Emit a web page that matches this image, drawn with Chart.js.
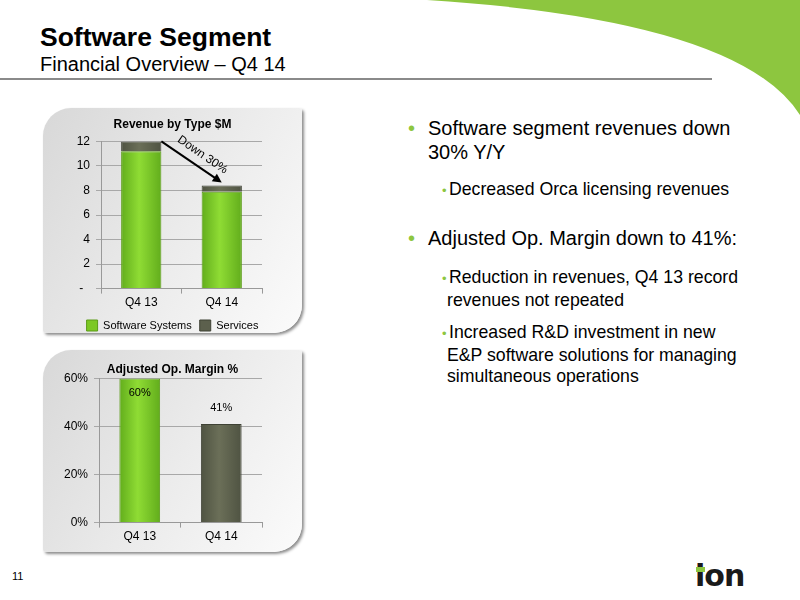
<!DOCTYPE html>
<html>
<head>
<meta charset="utf-8">
<title>Software Segment</title>
<script src="https://cdn.jsdelivr.net/npm/chart.js@4.4.0/dist/chart.umd.min.js"></script>
<style>
  body { margin: 0; width: 800px; height: 600px; position: relative; overflow: hidden; background: #fff; font-family: "Liberation Sans", Arial, sans-serif; color: #000; }
  .swoosh { position: absolute; left: 0; top: 0; }
  .titulo { position: absolute; left: 40px; top: 22px; font-size: 26.5px; font-weight: bold; }
  .subtitulo { position: absolute; left: 40px; top: 53px; font-size: 20px; }
  .linea { position: absolute; left: 0; top: 78px; width: 712px; height: 2px; background: #8a8a8a; }
  .panel { position: absolute; border-radius: 28px 3px 28px 3px; background: linear-gradient(120deg, #d8d8d8 0%, #ececec 55%, #fbfbfb 100%); box-shadow: 2px 2px 3px rgba(0,0,0,0.45); }
  .panel canvas { position: absolute; left: 0; top: 0; }
  .punto { color: #8dc63f; }
  .b1 { position: absolute; left: 408px; font-size: 20px; line-height: 24px; padding-left: 20px; text-indent: -20px; width: 330px; }
  .b1 .punto { display: inline-block; width: 20px; text-indent: 0; }
  .b2 { position: absolute; left: 442px; font-size: 17.7px; line-height: 21.7px; padding-left: 5px; text-indent: -5px; width: 300px; }
  .b2 .punto { display: inline-block; width: 7px; text-indent: 0; font-size: 13px; }
  .pagina { position: absolute; left: 12px; top: 570px; font-size: 11px; }
  .logo { position: absolute; left: 695px; top: 558px; font-size: 30px; font-weight: bold; letter-spacing: -1px; color: #1a1a1a; font-family: "DejaVu Sans", sans-serif; }
  .logo span { position: absolute; left: 1px; top: 9px; width: 9px; height: 5px; background: #8dc63f; }
</style>
</head>
<body>
<svg class="swoosh" width="800" height="600">
  <path d="M427,0 Q740,20 800,115 L800,0 Z" fill="#8dc63f"/>
</svg>
<div class="titulo">Software Segment</div>
<div class="subtitulo">Financial Overview – Q4 14</div>
<div class="linea"></div>

<div class="panel" style="left:43px;top:108px;width:259px;height:225px;">
  <canvas id="graficaIngresos" width="259" height="235"></canvas>
</div>
<div class="panel" style="left:43px;top:350px;width:259px;height:202px;">
  <canvas id="graficaMargen" width="259" height="202"></canvas>
</div>

<div class="b1" style="top:116px;"><span class="punto">•</span>Software segment revenues down 30% Y/Y</div>
<div class="b2" style="top:179px;"><span class="punto">•</span>Decreased Orca licensing revenues</div>
<div class="b1" style="top:226px;"><span class="punto">•</span>Adjusted Op. Margin down to 41%:</div>
<div class="b2" style="top:267px;"><span class="punto">•</span>Reduction in revenues, Q4 13 record revenues not repeated</div>
<div class="b2" style="top:322px;"><span class="punto">•</span>Increased R&amp;D investment in new E&amp;P software solutions for managing simultaneous operations</div>

<div class="pagina">11</div>
<div class="logo">ion<span></span></div>

<script>
const trimestres = ["Q4 13", "Q4 14"];
const softwareSystems = [11.2, 7.9];
const servicios = [0.8, 0.5];
const ticksIngresos = [0, 2, 4, 6, 8, 10, 12];
const margen = [60, 41];
const ticksMargen = [0, 20, 40, 60];

const fuente = "'Liberation Sans', Arial, sans-serif";
Chart.defaults.font.family = fuente;
Chart.defaults.color = "#000";

// degradado horizontal tipo cilindro para cada barra
function degradado(ctx, borde, centro) {
  const chart = ctx.chart;
  const x = chart.scales.x;
  if (!x || !chart.chartArea) return centro;
  const cx = x.getPixelForValue(ctx.dataIndex);
  const w = (x.width / trimestres.length) * 0.5;
  const g = chart.ctx.createLinearGradient(cx - w / 2, 0, cx + w / 2, 0);
  g.addColorStop(0, borde);
  g.addColorStop(0.45, centro);
  g.addColorStop(1, borde);
  return g;
}
const verde = c => degradado(c, "#62ad1c", "#8fdc34");
const oscuro = c => degradado(c, "#4f5342", "#6b6f58");
const verdeBorde = "#5c9c18";
const oscuroBorde = "#3f4235";

// flecha "Down 30%" entre las dos barras
const flecha = {
  id: "flecha",
  afterDatasetsDraw(chart) {
    const x = chart.scales.x, y = chart.scales.y;
    const total0 = softwareSystems[0] + servicios[0];
    const total1 = softwareSystems[1] + servicios[1];
    const barra = chart.getDatasetMeta(1).data[0];
    const x1 = x.getPixelForValue(0) + barra.width / 2;
    const y1 = y.getPixelForValue(total0);
    const x2 = x.getPixelForValue(1);
    const y2 = y.getPixelForValue(total1) - 3;
    const c = chart.ctx;
    const ang = Math.atan2(y2 - y1, x2 - x1);
    c.save();
    c.strokeStyle = "#000";
    c.fillStyle = "#000";
    c.lineWidth = 2;
    c.beginPath();
    c.moveTo(x1, y1);
    c.lineTo(x2 - 6 * Math.cos(ang), y2 - 6 * Math.sin(ang));
    c.stroke();
    c.beginPath();
    c.moveTo(x2, y2);
    c.lineTo(x2 - 9 * Math.cos(ang) + 4.5 * Math.sin(ang), y2 - 9 * Math.sin(ang) - 4.5 * Math.cos(ang));
    c.lineTo(x2 - 9 * Math.cos(ang) - 4.5 * Math.sin(ang), y2 - 9 * Math.sin(ang) + 4.5 * Math.cos(ang));
    c.closePath();
    c.fill();
    const mx = (x1 + x2) / 2 + 11, my = (y1 + y2) / 2 - 7;
    c.translate(mx, my);
    c.rotate(ang);
    c.font = "12px " + fuente;
    c.textAlign = "center";
    c.textBaseline = "middle";
    c.fillText("Down 30%", 0, 0);
    c.restore();
  }
};

// etiquetas de porcentaje en las barras
const etiquetas = {
  id: "etiquetas",
  afterDatasetsDraw(chart) {
    const c = chart.ctx;
    const meta = chart.getDatasetMeta(0);
    c.save();
    c.font = "11px " + fuente;
    c.textAlign = "center";
    c.textBaseline = "middle";
    c.fillStyle = "#000";
    meta.data.forEach((bar, i) => {
      const v = margen[i];
      const dy = v >= ticksMargen[ticksMargen.length - 1] ? 15 : -16;
      c.fillText(v + "%", bar.x, bar.y + dy);
    });
    c.restore();
  }
};

// eje vacío a la derecha para dejar el margen sin descentrar título y leyenda
const ejeDerecho = {
  position: "right",
  display: true,
  grid: { display: false },
  border: { display: false },
  ticks: { display: false },
  afterFit: s => { s.width = 40; }
};

new Chart(document.getElementById("graficaIngresos").getContext("2d"), {
  type: "bar",
  data: {
    labels: trimestres,
    datasets: [
      { label: "Software Systems", data: softwareSystems, backgroundColor: verde, borderColor: verdeBorde, borderWidth: 1, barPercentage: 0.5, categoryPercentage: 1 },
      { label: "Services", data: servicios, backgroundColor: oscuro, borderColor: oscuroBorde, borderWidth: 1, barPercentage: 0.5, categoryPercentage: 1 }
    ]
  },
  options: {
    responsive: false,
    animation: false,
    layout: { padding: { left: 0, right: 0, top: 0, bottom: 2 } },
    plugins: {
      title: { display: true, text: "Revenue by Type $M", font: { size: 12, weight: "bold" }, padding: { top: 9, bottom: 10 } },
      legend: {
        position: "bottom",
        labels: {
          boxWidth: 11, boxHeight: 11, padding: 8, font: { size: 11 },
          generateLabels: chart => Chart.defaults.plugins.legend.labels.generateLabels(chart).map((l, i) => {
            l.fillStyle = i === 0 ? "#7cc823" : "#5c604d";
            return l;
          })
        }
      },
      tooltip: { enabled: false }
    },
    scales: {
      x: {
        stacked: true,
        grid: { display: true, drawOnChartArea: false, drawTicks: true, tickLength: 5, color: "#999", offset: true },
        border: { color: "#999" },
        ticks: { font: { size: 12 }, padding: 2 }
      },
      y: {
        stacked: true,
        min: ticksIngresos[0],
        max: ticksIngresos[ticksIngresos.length - 1],
        afterBuildTicks: s => { s.ticks = ticksIngresos.map(v => ({ value: v })); },
        afterFit: s => { s.width = 58; },
        grid: { color: "#a8a8a8", tickLength: 5 },
        border: { color: "#999" },
        ticks: { font: { size: 12 }, padding: 6, callback: v => v === 0 ? "-  " : v }
      },
      yDer: ejeDerecho
    }
  },
  plugins: [flecha]
});

new Chart(document.getElementById("graficaMargen").getContext("2d"), {
  type: "bar",
  data: {
    labels: trimestres,
    datasets: [
      {
        label: "Adjusted Op. Margin %",
        data: margen,
        backgroundColor: c => c.dataIndex === 0 ? verde(c) : oscuro(c),
        borderColor: c => c.dataIndex === 0 ? verdeBorde : oscuroBorde,
        borderWidth: 1, barPercentage: 0.5, categoryPercentage: 1
      }
    ]
  },
  options: {
    responsive: false,
    animation: false,
    layout: { padding: { left: 0, right: 0, top: 0, bottom: 6 } },
    plugins: {
      title: { display: true, text: "Adjusted Op. Margin %", font: { size: 12, weight: "bold" }, padding: { top: 12, bottom: 2 } },
      legend: { display: false },
      tooltip: { enabled: false }
    },
    scales: {
      x: {
        grid: { display: true, drawOnChartArea: false, drawTicks: true, tickLength: 5, color: "#999", offset: true },
        border: { color: "#999" },
        ticks: { font: { size: 12 }, padding: 2 }
      },
      y: {
        min: ticksMargen[0],
        max: ticksMargen[ticksMargen.length - 1],
        afterBuildTicks: s => { s.ticks = ticksMargen.map(v => ({ value: v })); },
        afterFit: s => { s.width = 56; },
        grid: { color: "#a8a8a8", tickLength: 5 },
        border: { color: "#999" },
        ticks: { font: { size: 12 }, padding: 6, callback: v => v + "%" }
      },
      yDer: ejeDerecho
    }
  },
  plugins: [etiquetas]
});
</script>
</body>
</html>
